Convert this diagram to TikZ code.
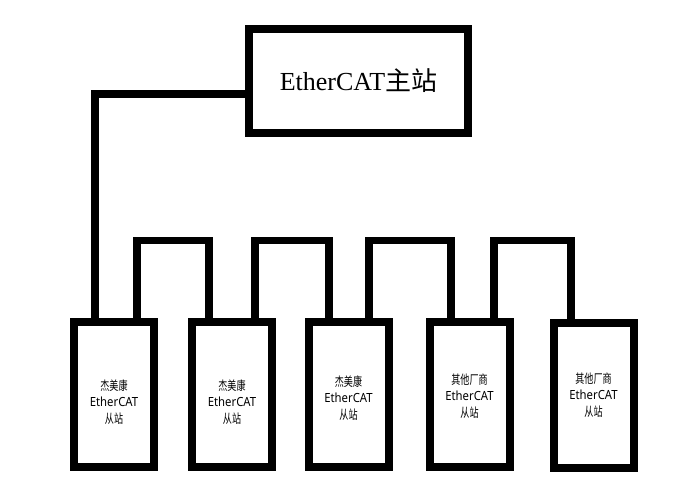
\documentclass[tikz,border=0pt]{standalone}
\usepackage{fontspec}
\setmainfont{Liberation Serif}
\newfontfamily\cjk{Noto Sans CJK SC}
\newfontfamily\cjkslave{Noto Sans CJK SC}[FakeStretch=0.72]
\newfontfamily\latslave{Noto Sans}[FakeStretch=0.9]
\newcommand{\slavelines}[1]{{\cjkslave #1}\\{\latslave EtherCAT}\\{\cjkslave 从站}}
\begin{document}
\begin{tikzpicture}[x=1pt,y=-1pt,
  box/.style={draw=black,line width=8pt,fill=white,inner sep=0pt,outer sep=0pt},
  slavebox/.style={box,minimum width=80pt,minimum height=145pt},
  slavetext/.style={align=center,font=\fontsize{12.6}{16.5}\selectfont,inner sep=0pt},
  link/.style={draw=black,line width=7.5pt,line join=miter}]
\useasboundingbox[fill=white] (0,0) rectangle (683,502);
\node[box,minimum width=219pt,minimum height=104pt,font=\fontsize{26}{30}\selectfont] (master) at (358.5,81) {EtherCAT{\cjk 主站}};
\node[slavebox] (s1) at (114,395) {};
\node[slavebox] (s2) at (232,395) {};
\node[slavebox] (s3) at (348.5,395) {};
\node[slavebox] (s4) at (469.5,395) {};
\node[slavebox] (s5) at (593.5,396) {};
\path[link] ([yshift=-13pt]master.west) -| ([xshift=-19pt]s1.north);
\path[link] ([xshift=23pt]s1.north) -- ++(0,-82) -| ([xshift=-23pt]s2.north);
\path[link] ([xshift=23pt]s2.north) -- ++(0,-82) -| ([xshift=-19.5pt]s3.north);
\path[link] ([xshift=20.5pt]s3.north) -- ++(0,-82) -| ([xshift=-18.5pt]s4.north);
\path[link] ([xshift=24.5pt]s4.north) -- ++(0,-82) -| ([xshift=-22.5pt]s5.north);
% redraw box borders on top of connector ends
\foreach \n in {s1,s2,s3,s4,s5,master}{\draw[line width=8pt] (\n.north west) rectangle (\n.south east);}
\node[slavetext] (t1) at (114,402) {\slavelines{杰美康}};
\node[slavetext] (t2) at (232,402) {\slavelines{杰美康}};
\node[slavetext] (t3) at (348.5,398) {\slavelines{杰美康}};
\node[slavetext] (t4) at (469.5,396) {\slavelines{其他厂商}};
\node[slavetext] (t5) at (593.5,395) {\slavelines{其他厂商}};
\end{tikzpicture}
\end{document}
